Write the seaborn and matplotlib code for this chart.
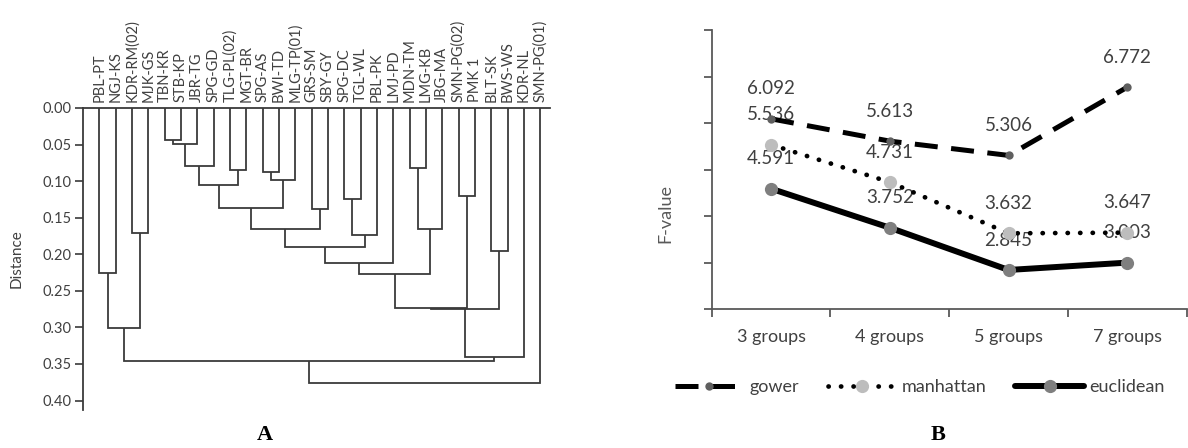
import numpy as np
import pandas as pd
import matplotlib
matplotlib.use("Agg")
import matplotlib.pyplot as plt
import seaborn as sns

# ---------------- data ----------------
leaves = ["PBL-PT", "NGJ-KS", "KDR-RM(02)", "MJK-GS", "TBN-KR", "STB-KP", "JBR-TG",
          "SPG-GD", "TLG-PL(02)", "MGT-BR", "SPG-AS", "BWI-TD", "MLG-TP(01)", "GRS-SM",
          "SBY-GY", "SPG-DC", "TGL-WL", "PBL-PK", "LMJ-PD", "MDN-TM", "LMG-KB", "JBG-MA",
          "SMN-PG(02)", "PMK 1", "BLT-SK", "BWS-WS", "KDR-NL", "SMN-PG(01)"]

# merge list (left node id, right node id); new node ids continue after the leaves
merge_left = [4, 28, 29, 19, 8, 10, 33, 30, 22, 15, 35, 13, 38, 31, 2, 37, 40, 24, 44, 0, 46, 48, 49, 47, 50, 51, 53]
merge_right = [5, 6, 7, 20, 9, 11, 12, 32, 23, 16, 34, 14, 39, 21, 3, 17, 43, 25, 18, 1, 41, 36, 45, 42, 26, 52, 27]
merge_height = [0.044, 0.049, 0.079, 0.082, 0.085, 0.088, 0.098, 0.106, 0.121, 0.124, 0.137, 0.138,
                0.166, 0.166, 0.171, 0.174, 0.190, 0.195, 0.212, 0.225, 0.227, 0.274, 0.275,
                0.301, 0.340, 0.346, 0.376]
dist_ticks = [0.00, 0.05, 0.10, 0.15, 0.20, 0.25, 0.30, 0.35, 0.40]

groups = ["3 groups", "4 groups", "5 groups", "7 groups"]
gower = [6.092, 5.613, 5.306, 6.772]
manhattan = [5.536, 4.731, 3.632, 3.647]
euclidean = [4.591, 3.752, 2.845, 3.003]
f_ticks = [2, 3, 4, 5, 6, 7, 8]

# ---------------- style ----------------
sns.set_style("white")
plt.rcParams["font.family"] = ["Lato", "DejaVu Sans"]
TXT = "#404040"

fig = plt.figure(figsize=(11.88, 4.48), dpi=100)

# ---------------- panel A : dendrogram ----------------
axA = fig.add_axes([0.0696, 0.0848, 0.3934, 0.6742])
n = len(leaves)
xpos = {i: float(i) for i in range(n)}
hpos = {i: 0.0 for i in range(n)}
for k, (l, r, h) in enumerate(zip(merge_left, merge_right, merge_height)):
    nid = n + k
    xl, xr = xpos[l], xpos[r]
    axA.plot([xl, xl, xr, xr], [hpos[l], h, h, hpos[r]], color="#3a3a3a", lw=1.3,
             solid_capstyle="butt", solid_joinstyle="miter")
    xpos[nid] = (xl + xr) / 2
    hpos[nid] = h

axA.set_xlim(-1.02, 27.6)
axA.set_ylim(0.413, 0.0)
axA.set_yticks(dist_ticks)
axA.set_yticklabels([f"{t:.2f}" for t in dist_ticks], fontsize=10.5, color=TXT)
axA.xaxis.tick_top()
axA.set_xticks(range(n))
axA.set_xticklabels(leaves, rotation=90, fontsize=10.5, color=TXT)
axA.tick_params(axis="x", length=0, pad=4)
axA.tick_params(axis="y", direction="out", length=6, width=1.2, color="#3a3a3a", left=True, pad=2)
for s in ["right", "bottom"]:
    axA.spines[s].set_visible(False)
for s in ["left", "top"]:
    axA.spines[s].set_color("#3a3a3a")
    axA.spines[s].set_linewidth(1.3)
fig.text(17 / 1188, 1 - 259 / 448, "Distance", rotation=90, fontsize=11, color=TXT,
         ha="center", va="center")

fig.text(265 / 1188, 1 - 435 / 448, "A", fontsize=16, fontweight="bold",
         family="Liberation Serif", ha="center", va="center", color="black")

# ---------------- panel B : F-values ----------------
axB = fig.add_axes([0.5991, 0.3096, 0.3998, 0.6234])
df = pd.DataFrame({"groups": groups, "gower": gower, "manhattan": manhattan, "euclidean": euclidean})

sns.lineplot(data=df, x="groups", y="gower", ax=axB, color="black", lw=3.6,
             linestyle=(0, (4.6, 2.7)), marker="o", markersize=6, markerfacecolor="#5f5f5f",
             markeredgewidth=0, label="gower")
sns.lineplot(data=df, x="groups", y="manhattan", ax=axB, color="black", lw=3.4,
             linestyle=(0, (0.05, 2.6)), dash_capstyle="round", marker="o", markersize=9.5,
             markerfacecolor="#bdbdbd", markeredgewidth=0, label="manhattan")
sns.lineplot(data=df, x="groups", y="euclidean", ax=axB, color="black", lw=4.3,
             marker="o", markersize=9.5, markerfacecolor="#7f7f7f", markeredgewidth=0,
             label="euclidean")

for series in (gower, manhattan, euclidean):
    for i, v in enumerate(series):
        axB.annotate(f"{v:.3f}", (i, v), xytext=(0, 21.5), textcoords="offset points",
                     ha="center", va="center", fontsize=13.5, color=TXT, zorder=1)

axB.set_xlim(-0.5, 3.5)
axB.set_ylim(2, 8)
axB.set_yticks(f_ticks)
axB.set_yticklabels([])
axB.set_xticks(range(len(groups)))
axB.set_xticklabels(groups, fontsize=13, color=TXT)
axB.set_xticks(np.arange(-0.5, 4.0, 1.0), minor=True)
axB.tick_params(axis="x", which="major", length=0, pad=14)
axB.tick_params(axis="x", which="minor", direction="out", length=6, width=1.3, color="#595959", bottom=True)
axB.tick_params(axis="y", direction="out", length=6, width=1.3, color="#595959", left=True)
for s in ["right", "top"]:
    axB.spines[s].set_visible(False)
for s in ["left", "bottom"]:
    axB.spines[s].set_color("#595959")
    axB.spines[s].set_linewidth(1.3)
axB.set_xlabel("")
axB.set_ylabel("")
fig.text(665 / 1188, 1 - 213 / 448, "F-value", rotation=90, fontsize=13, color="#595959",
         ha="center", va="center")

handles, labels = axB.get_legend_handles_labels()
axB.legend(handles, labels, loc="center", bbox_to_anchor=(920 / 1188, 1 - 387 / 448),
           bbox_transform=fig.transFigure, ncol=3, frameon=False, fontsize=13,
           handlelength=3.8, handletextpad=0.3, columnspacing=1.6, labelcolor=TXT)

fig.text(938 / 1188, 1 - 435 / 448, "B", fontsize=16, fontweight="bold",
         family="Liberation Serif", ha="center", va="center", color="black")

fig.savefig("out.png", dpi=100)
